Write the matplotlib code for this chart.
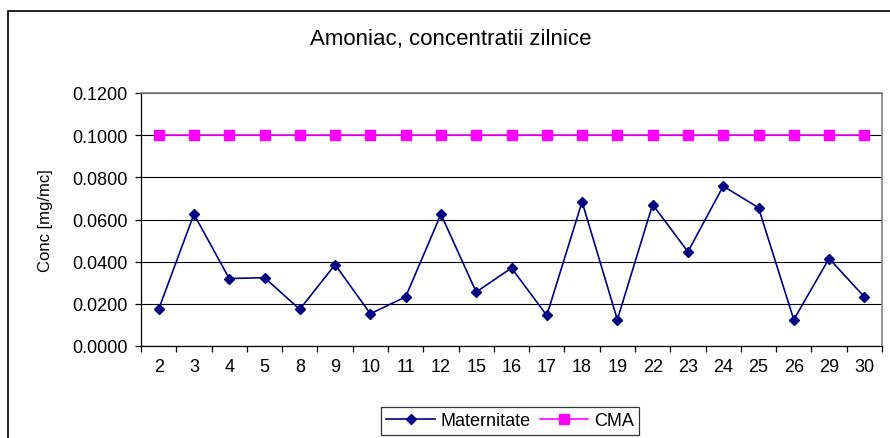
import matplotlib
matplotlib.use("Agg")
import matplotlib.pyplot as plt
from matplotlib.patches import Rectangle
import numpy as np

plt.rcParams['font.family'] = ['Liberation Sans', 'DejaVu Sans']

days = ['2', '3', '4', '5', '8', '9', '10', '11', '12', '15', '16', '17', '18', '19',
        '22', '23', '24', '25', '26', '29', '30']
maternitate = [0.0174, 0.0625, 0.0320, 0.0324, 0.0174, 0.0386, 0.0153, 0.0233, 0.0625,
               0.0256, 0.0370, 0.0145, 0.0684, 0.0125, 0.0671, 0.0447, 0.0758, 0.0656,
               0.0125, 0.0415, 0.0233]
cma = [0.1000] * len(days)
yticks = [0.0, 0.02, 0.04, 0.06, 0.08, 0.10, 0.12]

fig = plt.figure(figsize=(8.9, 4.39), dpi=100)
W, H = 890, 439

# outer chart border
fig.patches.append(Rectangle((8 / W, -0.1), 1.2, 1 - 12 / H + 0.1,
                             transform=fig.transFigure, fill=False,
                             edgecolor='black', linewidth=1.2))

ax = fig.add_axes([141 / W, 1 - 347 / H, (882 - 141) / W, (347 - 94) / H])
x = np.arange(len(days))
ax.plot(x, maternitate, color='#000080', marker='D', markersize=5.2,
        linewidth=1.2, label='Maternitate', zorder=3)
ax.plot(x, cma, color='#FF00FF', marker='s', markersize=6.5,
        linewidth=1.2, label='CMA', zorder=3)

ax.set_xlim(-0.5, len(days) - 0.5)
ax.set_ylim(0, 0.12)
ax.set_yticks(yticks)
ax.set_yticklabels([f'{v:.4f}' for v in yticks])
ax.set_xticks(x)
ax.set_xticklabels(days)
ax.set_xticks(np.arange(len(days) + 1) - 0.5, minor=True)
ax.tick_params(axis='x', which='major', length=0, pad=9, labelsize=13)
ax.tick_params(axis='x', which='minor', length=4.5, width=0.9, direction='out')
ax.tick_params(axis='y', length=4.5, width=0.9, direction='out', pad=5, labelsize=13)

ax.yaxis.grid(True, color='black', linewidth=0.8)
ax.set_axisbelow(True)
for s in ['top', 'right']:
    ax.spines[s].set_color('#808080')
    ax.spines[s].set_linewidth(1.2)
for s in ['left', 'bottom']:
    ax.spines[s].set_color('black')
    ax.spines[s].set_linewidth(0.9)

ax.set_ylabel('Conc [mg/mc]', fontsize=12, labelpad=14)
fig.text(451 / W, 1 - 39 / H, 'Amoniac, concentratii zilnice', ha='center',
         va='center', fontsize=16)

leg = fig.legend(loc='center', bbox_to_anchor=(510 / W, 1 - 422 / H), ncol=2,
                 frameon=True, fancybox=False, edgecolor='black', fontsize=13,
                 handlelength=2.7, borderpad=0.3, columnspacing=0.5,
                 handletextpad=0.3, borderaxespad=0)
leg.get_frame().set_linewidth(0.9)

fig.savefig('out.png', dpi=100)
